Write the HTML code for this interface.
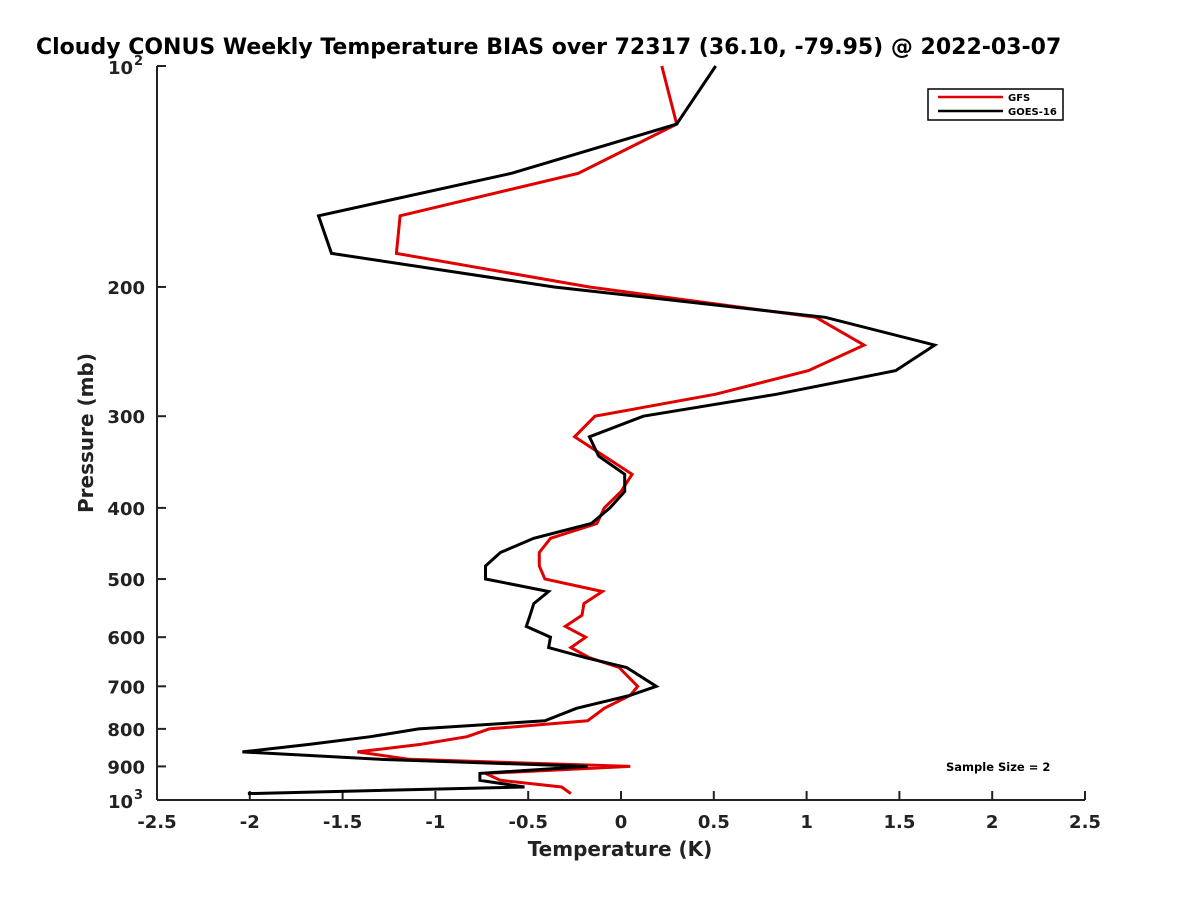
<!DOCTYPE html>
<html><head><meta charset="utf-8"><style>
body{margin:0;background:#fff;}
svg{display:block;font-family:"DejaVu Sans","Liberation Sans",sans-serif;font-weight:bold;}
</style></head><body>
<svg id="chart" width="1200" height="900" viewBox="0 0 1200 900">
<text x="36" y="54" font-size="22" fill="#000">Cloudy CONUS Weekly Temperature BIAS over 72317 (36.10, -79.95) @ 2022-03-07</text>
<g id="axes"></g>
<g id="series"></g>
<g>
<rect x="928" y="89" width="135" height="31" fill="#fff" stroke="#000" stroke-width="1.5"/>
<line x1="938" y1="97" x2="1003" y2="97" stroke="#e00000" stroke-width="2.5"/>
<text x="1008" y="101" font-size="10">GFS</text>
<line x1="938" y1="111" x2="1003" y2="111" stroke="#000" stroke-width="2.5"/>
<text x="1008" y="115" font-size="10">GOES-16</text>
</g>
<text x="946" y="771" font-size="11.5">Sample Size = 2</text>
<text x="620" y="856" font-size="20" text-anchor="middle" fill="#222">Temperature (K)</text>
<text transform="translate(93,433) rotate(-90)" font-size="20" text-anchor="middle" fill="#222">Pressure (mb)</text>
</svg>
<script>
const pressures=[100,120,140,160,180,200,220,240,260,280,300,320,340,360,380,400,420,440,460,480,500,520,540,560,580,600,620,640,660,700,720,750,780,800,820,840,860,880,900,920,940,960,980];
const gfsBias=[0.22,0.30,-0.23,-1.19,-1.21,-0.17,1.05,1.31,1.01,0.51,-0.14,-0.25,-0.09,0.06,0.0,-0.09,-0.13,-0.38,-0.44,-0.44,-0.41,-0.10,-0.20,-0.21,-0.30,-0.19,-0.27,-0.17,-0.01,0.09,0.05,-0.09,-0.18,-0.71,-0.83,-1.08,-1.42,-1.14,0.05,-0.73,-0.65,-0.32,-0.27];
const goesBias=[0.51,0.30,-0.59,-1.63,-1.56,-0.36,1.10,1.69,1.48,0.84,0.12,-0.17,-0.12,0.02,0.02,-0.06,-0.16,-0.47,-0.65,-0.73,-0.73,-0.39,-0.47,-0.49,-0.51,-0.38,-0.39,-0.19,0.03,0.19,0.05,-0.24,-0.41,-1.09,-1.35,-1.68,-2.04,-1.30,-0.18,-0.76,-0.76,-0.52,-2.01];
const xTicks=[-2.5,-2,-1.5,-1,-0.5,0,0.5,1,1.5,2,2.5];
const yTicks=[100,200,300,400,500,600,700,800,900,1000];
const yTickLabels=["10|2","200","300","400","500","600","700","800","900","10|3"];
const NS="http://www.w3.org/2000/svg";
const X0=157,X1=1085,Y0=66,Y1=800,XMIN=-2.5,XMAX=2.5;
function xs(v){return X0+(v-XMIN)/(XMAX-XMIN)*(X1-X0);}
function ys(p){return Y0+(Math.log10(p)-2)*(Y1-Y0);}
function mk(tag,attrs,parent){const e=document.createElementNS(NS,tag);for(const k in attrs)e.setAttribute(k,attrs[k]);parent.appendChild(e);return e;}
const ax=document.getElementById('axes');
let l=mk('line',{x1:X0,y1:Y0,x2:X0,y2:Y1,stroke:'#222','stroke-width':2},ax);


l=mk('line',{x1:X0,y1:Y1,x2:X1,y2:Y1,stroke:'#222','stroke-width':2},ax);


xTicks.forEach(v=>{
 const t=mk('line',{x1:xs(v),y1:Y1,x2:xs(v),y2:Y1-9,stroke:'#222','stroke-width':2},ax);
 
 
 const tx=mk('text',{x:xs(v),y:Y1+28,'font-size':18,'text-anchor':'middle',fill:'#222'},ax);
 tx.textContent=String(v);
 
 
});
yTicks.forEach((p,i)=>{
 const t=mk('line',{x1:X0,y1:ys(p),x2:X0+9,y2:ys(p),stroke:'#222','stroke-width':2},ax);
 
 
 const lab=yTickLabels[i];
 if(lab.indexOf('|')>=0){
  const parts=lab.split('|');
  const tx=mk('text',{x:X0-24,y:ys(p)+8,'font-size':18,'text-anchor':'end',fill:'#222'},ax);
  tx.textContent=parts[0];
  
  
  const sp=mk('text',{x:X0-23,y:ys(p)-1,'font-size':13,'text-anchor':'start',fill:'#222'},ax);
  sp.textContent=parts[1];
  
  
 } else {
  const tx=mk('text',{x:X0-12,y:ys(p)+7,'font-size':18,'text-anchor':'end',fill:'#222'},ax);
  tx.textContent=lab;
  
  
 }
});
const sg=document.getElementById('series');
function line(vals,color,name){
 const d=vals.map((v,i)=>(i?'L':'M')+xs(v).toFixed(1)+','+ys(pressures[i]).toFixed(1)).join(' ');
 const p=mk('path',{d:d,fill:'none',stroke:color,'stroke-width':3,'stroke-linejoin':'miter'},sg);
 
 
}
line(gfsBias,'#e00000','gfs-line');
line(goesBias,'#000','goes16-line');
</script>
</body></html>
